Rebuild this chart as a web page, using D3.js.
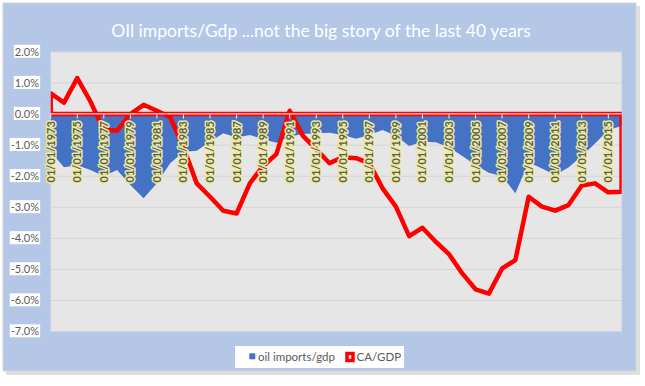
<!DOCTYPE html>
<html><head><meta charset="utf-8">
<script src="https://cdn.jsdelivr.net/npm/d3@7"></script>
<style>html,body{margin:0;padding:0;background:#fff;}svg{display:block;}</style>
</head><body>
<script>
const title = "OIl imports/Gdp ...not the big story of the last 40 years";
const years = [1973,1974,1975,1976,1977,1978,1979,1980,1981,1982,1983,1984,1985,1986,1987,1988,1989,1990,1991,1992,1993,1994,1995,1996,1997,1998,1999,2000,2001,2002,2003,2004,2005,2006,2007,2008,2009,2010,2011,2012,2013,2014,2015,2016];
const oilImports = [-1.2,-1.71,-1.65,-1.8,-2.0,-1.8,-2.28,-2.71,-2.23,-1.58,-1.21,-1.18,-0.89,-0.62,-0.75,-0.67,-0.81,-0.92,-0.72,-0.64,-0.62,-0.6,-0.67,-0.79,-0.67,-0.51,-0.70,-1.03,-0.89,-0.91,-1.07,-1.35,-1.64,-1.89,-2.0,-2.55,-1.55,-1.75,-1.96,-1.72,-1.35,-0.95,-0.51,-0.38];
const caGdp = [0.67,0.37,1.16,0.40,-0.51,-0.53,0.0,0.30,0.11,-0.10,-1.07,-2.23,-2.66,-3.11,-3.2,-2.23,-1.67,-1.29,0.11,-0.70,-1.13,-1.58,-1.39,-1.42,-1.58,-2.39,-2.98,-3.93,-3.66,-4.11,-4.51,-5.13,-5.64,-5.78,-4.97,-4.70,-2.66,-2.98,-3.11,-2.93,-2.30,-2.23,-2.52,-2.50];
const tickYears = [1973,1975,1977,1979,1981,1983,1985,1987,1989,1991,1993,1995,1997,1999,2001,2003,2005,2007,2009,2011,2013,2015];
const tickLabels = ["01/01/1973","01/01/1975","01/01/1977","01/01/1979","01/01/1981","01/01/1983","01/01/1985","01/01/1987","01/01/1989","01/01/1991","01/01/1993","01/01/1995","01/01/1997","01/01/1999","01/01/2001","01/01/2003","01/01/2005","01/01/2007","01/01/2009","01/01/2011","01/01/2013","01/01/2015"];
const yTicks = [2,1,0,-1,-2,-3,-4,-5,-6,-7];
const seriesNames = ["oil imports/gdp","CA/GDP"];

const W = 645, H = 386;
const svg = d3.select("body").append("svg").attr("width", W).attr("height", H);
const font = "Lato, 'Open Sans', sans-serif";

// outer chart area with shadow
svg.append("rect").attr("x",6).attr("y",6).attr("width",634).attr("height",369).attr("fill","#c8c8c8").attr("opacity",0.6);
svg.append("rect").attr("x",3).attr("y",3).attr("width",633).attr("height",368).attr("fill","#b4c7e7").attr("stroke","#d6d6d6").attr("stroke-width",1);

svg.append("text").attr("x",321).attr("y",36.5).attr("text-anchor","middle")
  .attr("font-family",font).attr("font-size",17.5).attr("fill","#ffffff").text(title);

const pl = 50.7, pr = 621.7, pt = 52, pb = 331.5;
const x = d3.scalePoint().domain(years).range([50.7, 621.6]);
const y = d3.scaleLinear().domain([-7, 2]).range([pb, pt]);

svg.append("rect").attr("x",pl).attr("y",pt).attr("width",pr-pl).attr("height",pb-pt).attr("fill","#e6e6e6");

svg.append("defs").append("clipPath").attr("id","clip").append("rect")
  .attr("x",pl).attr("y",pt-5).attr("width",pr-pl).attr("height",pb-pt+10);

// gridlines
svg.append("g").selectAll("line").data(yTicks).join("line")
  .attr("x1",pl).attr("x2",pr).attr("y1",d=>y(d)).attr("y2",d=>y(d))
  .attr("stroke","#d5d5d5").attr("stroke-width",1);

// y labels with white boxes
const yl = svg.append("g");
yTicks.forEach(v => {
  const t = yl.append("text").attr("x",39).attr("y",y(v)).attr("dy","0.35em").attr("text-anchor","end")
    .attr("font-family",font).attr("font-size",11).attr("fill","#595959").text(v.toFixed(1)+"%");
  const bb = t.node().getBBox();
  yl.insert("rect","text").attr("x",bb.x-1).attr("y",bb.y).attr("width",bb.width+2).attr("height",bb.height).attr("fill","#ffffff");
});

const g = svg.append("g").attr("clip-path","url(#clip)");
const oilArea = d3.area().x((d,i)=>x(years[i])).y0(y(0)).y1(d=>y(d));
g.append("path").datum(oilImports).attr("d",oilArea).attr("fill","#4472c4");
const caArea = d3.area().x((d,i)=>x(years[i])).y0(y(0)).y1(d=>y(d));
g.append("path").datum(caGdp).attr("d",caArea).attr("fill","none").attr("stroke","#ff0000").attr("stroke-width",4.5).attr("stroke-linejoin","round");

// axis line and ticks
svg.append("line").attr("x1",pl).attr("x2",pr).attr("y1",y(0)-0.3).attr("y2",y(0)-0.3).attr("stroke","#e0e0e0").attr("stroke-width",1.2);
svg.append("g").selectAll("line").data(tickYears).join("line")
  .attr("x1",d=>x(d)).attr("x2",d=>x(d)).attr("y1",y(0)).attr("y2",y(0)+4.5)
  .attr("stroke","#e8e8e8").attr("stroke-width",1);

// x labels rotated
svg.append("g").selectAll("text").data(tickYears).join("text")
  .attr("transform",d=>`translate(${x(d)+4},${y(0)+7}) rotate(-90)`)
  .attr("text-anchor","end").attr("font-family",font).attr("font-size",11).attr("font-weight","bold")
  .attr("fill","#56604f").attr("stroke","#efe9a0").attr("stroke-width",3).attr("stroke-linejoin","round")
  .attr("paint-order","stroke").text((d,i)=>tickLabels[i]);

// legend
svg.append("rect").attr("x",235).attr("y",346).attr("width",169).attr("height",22).attr("fill","#ffffff");
svg.append("rect").attr("x",249.3).attr("y",353.3).attr("width",6).attr("height",6).attr("fill","#4472c4");
svg.append("text").attr("x",258).attr("y",361).attr("font-family",font).attr("font-size",11.5).attr("fill","#595959").text(seriesNames[0]);
svg.append("rect").attr("x",347).attr("y",353.5).attr("width",6).attr("height",7).attr("fill","#ffffff").attr("stroke","#ff0000").attr("stroke-width",3.5);
svg.append("text").attr("x",356.5).attr("y",361).attr("font-family",font).attr("font-size",11.5).attr("fill","#595959").text(seriesNames[1]);
</script>
</body></html>
